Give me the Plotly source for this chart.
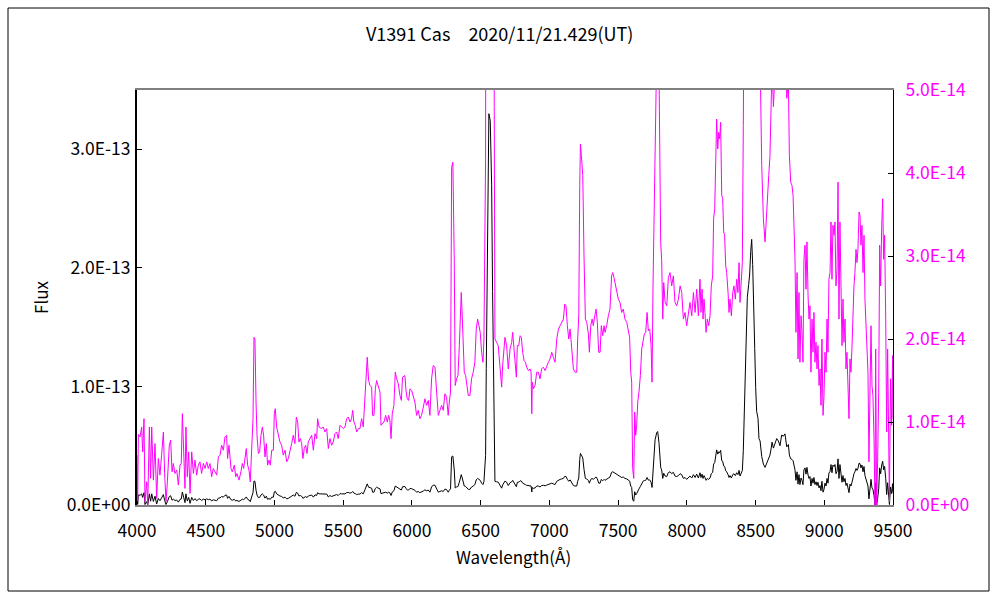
import plotly.graph_objects as go

# Spectrum of V1391 Cas (flux in units of 1e-14)
WAVELENGTH = [
    4000, 4005, 4010, 4022, 4034, 4041, 4051, 4058, 4070, 4078, 4090, 4099, 4107, 4119, 4131, 4143,
    4155, 4167, 4179, 4192, 4201, 4211, 4221, 4235, 4245, 4255, 4264, 4276, 4289, 4301, 4313, 4322,
    4330, 4337, 4349, 4356, 4366, 4376, 4386, 4398, 4410, 4422, 4434, 4446, 4458, 4470, 4483, 4495,
    4507, 4519, 4531, 4543, 4555, 4567, 4580, 4592, 4604, 4616, 4628,
    4640, 4652, 4659, 4669, 4684, 4693, 4708, 4718, 4727, 4742, 4756, 4766, 4776, 4786, 4795, 4805,
    4815, 4824, 4834, 4844, 4851, 4858, 4866, 4873, 4883, 4892, 4902, 4912, 4921, 4931, 4941, 4950,
    4960, 4970, 4980, 4992, 4999, 5006, 5016, 5028, 5040, 5052, 5064, 5077, 5089, 5101, 5113, 5125,
    5137, 5149, 5159, 5169, 5178, 5188, 5198, 5207, 5217, 5227, 5237, 5246, 5258, 5271, 5283, 5295,
    5307, 5314, 5324,
    5343, 5355, 5367, 5380, 5392, 5404, 5416, 5428, 5440, 5452, 5464, 5477, 5489, 5501, 5513, 5525,
    5537, 5549, 5561, 5569, 5578, 5588, 5598, 5610, 5622, 5634, 5646, 5658, 5666, 5675, 5685, 5695,
    5707, 5714, 5724, 5734, 5743, 5755, 5768, 5775, 5784, 5797, 5809, 5821, 5831, 5840, 5848, 5857,
    5869, 5879, 5889, 5901, 5913, 5923, 5932, 5942, 5949, 5957, 5966, 5976, 5986, 5998, 6010,
    6022, 6034, 6046, 6058, 6070, 6083, 6095, 6107, 6119, 6131, 6143, 6155, 6168, 6180, 6192, 6204,
    6216, 6228, 6240, 6252, 6264, 6272, 6281, 6289, 6298, 6308, 6315, 6325, 6335, 6345, 6352, 6359,
    6366, 6374, 6381, 6391, 6400, 6410, 6422, 6434, 6446, 6458, 6468, 6478, 6488, 6497, 6507, 6517,
    6524, 6531, 6536, 6541, 6551, 6560, 6570, 6580, 6587, 6594, 6599, 6604, 6616, 6628, 6640, 6653,
    6660, 6669, 6677, 6689, 6701,
    6714, 6726, 6733, 6743, 6753, 6760, 6767, 6777, 6787, 6796, 6806, 6816, 6826, 6835, 6847, 6860,
    6867, 6872, 6876, 6884, 6896, 6908, 6920, 6932, 6944, 6956, 6969, 6981, 6993, 7005, 7017, 7029,
    7041, 7054, 7066, 7078, 7090, 7102, 7112, 7121, 7131, 7141, 7151, 7163, 7175, 7187, 7199, 7206,
    7214, 7221, 7226, 7233, 7243, 7252, 7262, 7272, 7284, 7291, 7301, 7311, 7320, 7330, 7340, 7349,
    7359, 7369, 7378, 7388, 7398,
    7405, 7417, 7429, 7441, 7453, 7461, 7470, 7478, 7490, 7502, 7514, 7526, 7538, 7550, 7563, 7575,
    7584, 7592, 7599, 7606, 7614, 7621, 7628, 7635, 7643, 7652, 7662, 7672, 7681, 7691, 7701, 7711,
    7720, 7730, 7740, 7747, 7754, 7761, 7769, 7781, 7788, 7798, 7805, 7810, 7817, 7825, 7832, 7842,
    7854, 7866, 7878, 7890, 7902, 7914, 7926, 7939, 7951, 7963, 7975, 7987, 7999, 8011, 8023, 8036,
    8048, 8060, 8072, 8084,
    8096, 8103, 8111, 8118, 8125, 8132, 8140, 8149, 8159, 8169, 8178, 8188, 8195, 8203, 8210, 8217,
    8225, 8232, 8239, 8246, 8254, 8261, 8268, 8275, 8283, 8290, 8300, 8307, 8314, 8324, 8334, 8343,
    8353, 8363, 8372, 8380, 8387, 8397, 8404, 8411, 8416, 8426, 8433, 8440, 8450, 8457, 8465, 8472,
    8479, 8486, 8494, 8501, 8508, 8518, 8525, 8533, 8537, 8545, 8557, 8569, 8576, 8586, 8596, 8605,
    8613, 8620, 8630, 8642, 8654, 8666, 8678, 8690, 8702, 8714, 8727, 8739, 8746, 8756, 8765, 8773,
    8780,
    8787, 8794, 8802, 8809, 8816, 8823, 8831, 8838, 8845, 8852, 8860, 8867, 8874, 8882, 8889, 8896,
    8903, 8911, 8918, 8925, 8932, 8940, 8947, 8954, 8962, 8969, 8976, 8983, 8991, 8998, 9005, 9013,
    9020, 9027, 9034, 9042, 9049, 9056, 9063, 9071, 9078, 9085, 9093, 9100, 9107, 9114, 9122, 9129,
    9136, 9143, 9151, 9158, 9165, 9173, 9180, 9187, 9194, 9202, 9209, 9216, 9223, 9231, 9238, 9245,
    9253, 9260, 9267, 9274, 9282, 9289, 9296, 9303, 9311, 9318, 9325, 9333, 9340, 9347, 9354, 9362,
    9369, 9374, 9381, 9388, 9396, 9403, 9410, 9418, 9425, 9432, 9439, 9447, 9454, 9461, 9468, 9474,
    9482, 9490, 9497, 9500,
]

FLUX = [
    0.60, 0.05, 0.85, 0.82, 0.94, 0.64, 1.04, 0.04, 0.28, 0.00, 0.94, 0.32, 0.94, 0.30, 0.74, 0.08,
    0.56, 0.36, 0.60, 0.88, 0.38, 0.04, 0.28, 0.72, 0.78, 0.40, 0.50, 0.38, 0.42, 0.24, 0.48, 0.50,
    1.10, 0.70, 0.20, 0.94, 0.34, 0.64, 0.14, 0.64, 0.38, 0.54, 0.36, 0.48, 0.52, 0.38, 0.50, 0.44,
    0.52, 0.44, 0.50, 0.34, 0.44, 0.40, 0.36, 0.58, 0.60, 0.72, 0.66,
    0.82, 0.84, 0.56, 0.72, 0.44, 0.40, 0.48, 0.34, 0.38, 0.30, 0.40, 0.50, 0.44, 0.56, 0.68, 0.48,
    0.42, 0.28, 0.76, 1.04, 2.02, 2.00, 1.24, 0.84, 0.62, 0.64, 0.84, 0.94, 0.84, 0.58, 0.74, 0.48,
    0.54, 0.48, 0.66, 0.66, 1.10, 1.16, 0.94, 0.84, 0.76, 0.72, 0.60, 0.66, 0.52, 0.56, 0.64, 0.74,
    0.84, 0.74, 1.06, 1.00, 0.76, 0.80, 0.74, 0.56, 0.68, 0.72, 0.62, 0.76, 0.80, 0.84, 0.66, 0.86,
    0.80, 1.04, 0.94,
    0.92, 0.94, 0.88, 0.92, 0.68, 0.80, 0.72, 0.76, 0.86, 0.88, 0.80, 0.96, 0.94, 0.92, 0.94, 1.04,
    1.06, 1.00, 1.04, 1.14, 1.00, 0.96, 0.88, 0.92, 0.92, 1.04, 0.94, 1.28, 1.60, 1.78, 1.50, 1.44,
    1.42, 1.08, 1.08, 1.40, 1.50, 1.42, 1.36, 0.96, 0.98, 1.00, 1.08, 1.00, 1.08, 1.02, 0.80, 1.10,
    1.20, 1.60, 1.52, 1.46, 1.32, 1.26, 1.54, 1.56, 1.56, 1.38, 1.28, 1.26, 1.40, 1.38, 1.30,
    1.24, 1.08, 1.14, 1.04, 1.08, 1.18, 1.28, 1.20, 1.26, 1.08, 1.52, 1.68, 1.66, 1.36, 1.08, 1.14,
    1.20, 1.14, 1.34, 1.30, 1.08, 1.24, 1.36, 4.07, 4.13, 2.96, 1.44, 1.52, 1.56, 1.92, 2.32, 2.56,
    2.28, 1.84, 1.60, 1.56, 1.42, 1.32, 1.32, 1.52, 1.60, 1.72, 2.12, 2.24, 2.16, 2.08, 1.84, 1.72,
    2.00, 3.18, 4.17, 11.5, 27.0, 33.0, 32.4, 27.0, 18.0, 10.0, 4.80, 2.00, 1.96, 1.92, 1.68, 1.42,
    1.68, 1.92, 2.02, 1.92, 1.64,
    1.88, 1.96, 2.08, 1.84, 1.72, 1.54, 1.92, 1.92, 2.04, 2.02, 1.84, 1.74, 1.72, 1.66, 1.62, 1.64,
    1.60, 1.10, 1.48, 1.40, 1.44, 1.60, 1.60, 1.52, 1.64, 1.66, 1.62, 1.68, 1.72, 1.76, 1.84, 1.78,
    1.72, 2.00, 2.12, 2.16, 2.20, 2.24, 2.42, 2.40, 2.16, 2.00, 2.12, 1.88, 1.64, 1.60, 1.60, 2.00,
    2.28, 3.85, 4.35, 4.21, 3.97, 3.00, 2.24, 2.20, 2.06, 1.84, 2.16, 2.24, 2.16, 2.28, 2.36, 2.20,
    1.84, 1.84, 2.16, 2.04, 2.16,
    2.08, 2.16, 2.28, 2.36, 2.76, 2.80, 2.74, 2.68, 2.56, 2.48, 2.44, 2.32, 2.36, 2.24, 2.20, 2.08,
    2.02, 1.60, 1.48, 0.44, 0.32, 1.12, 0.84, 0.96, 1.24, 1.36, 1.56, 1.88, 2.00, 2.06, 2.08, 2.32,
    2.10, 2.12, 1.92, 1.48, 2.64, 3.85, 5.50, 6.10, 6.20, 5.20, 4.00, 3.16, 2.96, 2.24, 2.68, 2.44,
    2.40, 2.74, 2.80, 2.64, 2.76, 2.44, 2.40, 2.48, 2.64, 2.56, 2.24, 2.32, 2.16, 2.32, 2.44, 2.28,
    2.56, 2.32, 2.60, 2.28,
    2.72, 2.32, 2.60, 2.24, 2.48, 2.32, 2.08, 2.24, 2.16, 2.28, 2.64, 2.76, 3.45, 3.57, 4.25, 4.65,
    4.29, 4.49, 4.41, 4.61, 3.73, 3.69, 3.29, 3.25, 2.88, 2.80, 2.56, 2.32, 2.48, 2.28, 2.56, 2.64,
    2.48, 2.72, 2.56, 2.92, 2.44, 2.80, 2.92, 4.57, 6.50, 10.1, 14.1, 17.5, 18.6, 19.4, 21.4, 22.4,
    20.3, 17.7, 13.2, 9.90, 7.90, 7.30, 5.60, 5.40, 4.65, 4.09, 3.45, 3.17, 3.37, 3.73, 3.97, 4.21,
    4.73, 5.30, 4.80, 5.20, 5.60, 5.40, 5.00, 5.90, 5.80, 6.00, 4.90, 5.10, 4.21, 3.89, 3.85, 3.73,
    3.29,
    2.96, 2.08, 2.80, 1.76, 2.56, 1.72, 2.28, 2.08, 1.72, 2.96, 3.13, 2.60, 3.17, 2.52, 2.24, 2.40,
    1.60, 2.24, 1.84, 2.32, 1.72, 1.96, 1.64, 1.92, 1.44, 1.64, 1.20, 2.00, 1.08, 1.32, 1.84, 1.60,
    2.24, 1.84, 2.72, 2.80, 3.41, 2.72, 3.37, 3.25, 3.41, 2.64, 2.84, 3.89, 2.24, 3.41, 2.16, 1.92,
    2.48, 1.96, 2.24, 1.64, 1.84, 1.28, 1.04, 1.76, 1.60, 1.92, 2.36, 2.64, 2.80, 3.08, 2.92, 3.08,
    3.53, 3.49, 3.13, 3.37, 2.80, 3.25, 2.48, 2.16, 1.84, 1.60, 0.52, 1.72, 2.16, 1.44, 1.32, 0.80,
    0.00, 1.88, 0.00, 0.52, 1.36, 3.13, 2.64, 3.37, 3.69, 2.96, 3.25, 2.24, 0.88, 1.88, 0.84, 0.04,
    1.52, 0.96, 1.80, 1.04,
]
FLUX_UNIT = 1e-14

X_TICKS = [4000, 4500, 5000, 5500, 6000, 6500, 7000, 7500, 8000, 8500, 9000, 9500]
X_TICK_TEXT = ["4000", "4500", "5000", "5500", "6000", "6500", "7000", "7500", "8000", "8500", "9000", "9500"]
LEFT_TICKS = [0, 1e-13, 2e-13, 3e-13]
LEFT_TICK_TEXT = ["0.0E+00", "1.0E-13", "2.0E-13", "3.0E-13"]
RIGHT_TICKS = [0, 1e-14, 2e-14, 3e-14, 4e-14, 5e-14]
RIGHT_TICK_TEXT = ["0.0E+00", "1.0E-14", "2.0E-14", "3.0E-14", "4.0E-14", "5.0E-14"]

TITLE = "V1391 Cas\u30002020/11/21.429(UT)"
X_TITLE = "Wavelength(\u00c5)"
Y_TITLE = "Flux"

flux = [v * FLUX_UNIT for v in FLUX]

FONT = "Noto Sans CJK JP"
MAGENTA = "#FF00FF"
FS = 17.5

fig = go.Figure()
fig.add_trace(go.Scatter(x=WAVELENGTH, y=flux, mode="lines", yaxis="y2",
                         line=dict(color=MAGENTA, width=1), showlegend=False, hoverinfo="skip"))
fig.add_trace(go.Scatter(x=WAVELENGTH, y=flux, mode="lines", yaxis="y",
                         line=dict(color="black", width=1), showlegend=False, hoverinfo="skip"))

L, R, T, B = 137, 893, 90, 505
W, H = 1000, 600
pw, ph = R - L, B - T

def px(x):
    return (x - L) / pw

def py(y):
    return (B - y) / ph

fig.update_layout(
    width=W, height=H, autosize=False,
    margin=dict(l=L, r=W - R, t=T, b=H - B, pad=0),
    paper_bgcolor="white", plot_bgcolor="white",
    font=dict(family=FONT, size=FS, color="black"),
    showlegend=False,
    xaxis=dict(range=[4000, 9500], tickvals=X_TICKS, ticktext=X_TICK_TEXT,
               ticks="inside", ticklen=5, tickcolor="black", tickwidth=1,
               showline=True, linecolor="#808080", linewidth=2, mirror=True,
               showgrid=False, zeroline=False, ticklabelstandoff=9),
    yaxis=dict(range=[0, 3.5e-13], tickvals=LEFT_TICKS, ticktext=LEFT_TICK_TEXT,
               ticks="inside", ticklen=5, tickcolor="black", tickwidth=1,
               showline=True, linecolor="black", linewidth=2,
               showgrid=False, zeroline=False, ticklabelstandoff=1),
    yaxis2=dict(range=[0, 5e-14], tickvals=RIGHT_TICKS, ticktext=RIGHT_TICK_TEXT,
                overlaying="y", side="right", anchor="x",
                ticks="inside", ticklen=5, tickcolor="black", tickwidth=1,
                tickfont=dict(color=MAGENTA),
                showline=True, linecolor="black", linewidth=1,
                showgrid=False, zeroline=False, ticklabelstandoff=8),
    shapes=[dict(type="rect", xref="paper", yref="paper",
                 x0=px(8), x1=px(989), y0=py(591), y1=py(8),
                 line=dict(color="black", width=1), fillcolor="rgba(0,0,0,0)", layer="below")],
    annotations=[
        dict(text=TITLE, xref="paper", yref="paper", x=px(499), y=py(33),
             xanchor="center", yanchor="middle", showarrow=False, font=dict(size=18)),
        dict(text=X_TITLE, xref="paper", yref="paper", x=px(513), y=py(556),
             xanchor="center", yanchor="middle", showarrow=False, font=dict(size=17)),
        dict(text=Y_TITLE, xref="paper", yref="paper", x=px(40), y=py(297),
             xanchor="center", yanchor="middle", showarrow=False, textangle=-90,
             font=dict(size=17)),
    ],
)

fig.write_html("out.html", config={"displayModeBar": False},
               post_script="document.body.style.margin='0px';document.body.style.padding='0px';")
